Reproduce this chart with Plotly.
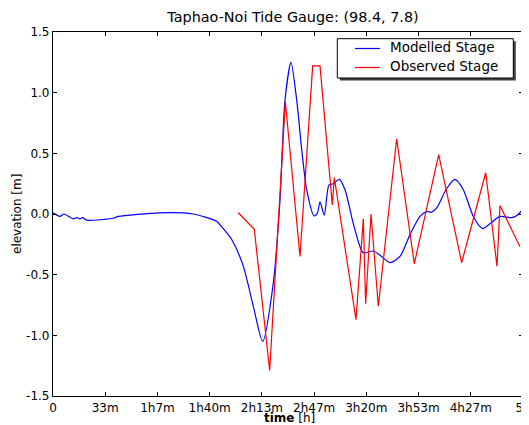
import plotly.graph_objects as go

# Modelled stage (time in seconds, elevation in m)
model_t = [0, 268, 421, 777, 908, 1034, 1137, 1291, 2309, 2501, 4098, 5373, 6269, 6396,
           6844, 7288, 7671, 8031, 8437, 8694, 8885, 9115, 9333, 9525, 9716, 9996, 10122,
           10226, 10390, 10570, 10735, 10965, 11183, 11501, 11758, 11884, 12267, 12523,
           12906, 13289, 13672, 14055, 14312, 14503, 14695, 15078, 15396, 15714, 16097,
           16457, 16736, 17119, 17567, 17782, 18000]
model_z = [0.01, -0.02, 0.0, -0.04, -0.03, -0.04, -0.03, -0.05, -0.035, -0.02, 0.01, 0.0,
           -0.06, -0.09, -0.21, -0.43, -0.76, -1.05, -0.57, 0.115, 0.94, 1.25, 0.94, 0.53,
           0.2, -0.016, 0.005, 0.10, -0.01, 0.24, 0.25, 0.285, 0.2, -0.08, -0.27, -0.32,
           -0.305, -0.34, -0.40, -0.35, -0.17, -0.02, 0.02, 0.015, 0.05, 0.21, 0.285, 0.2,
           -0.02, -0.12, -0.08, -0.02, -0.03, -0.01, 0.04]

# Observed stage
obs_t = [7097, 7710, 8298, 8898, 9460, 9945, 10226, 10697, 10774, 11604, 11885, 11974,
         12179, 12459, 13162, 13837, 14771, 15652, 16572, 17004, 17119, 17885]
obs_z = [0.01, -0.126, -1.29, 0.925, -0.35, 1.22, 1.22, 0.074, 0.30, -0.87, -0.04, -0.74,
         0.0, -0.76, 0.62, -0.41, 0.49, -0.40, 0.34, -0.43, 0.07, -0.27]

x_tickvals = [0, 2000, 4000, 6000, 8000, 10000, 12000, 14000, 16000, 18000]
x_ticktext = ["0", "33m", "1h7m", "1h40m", "2h13m", "2h47m", "3h20m", "3h53m", "4h27m", "5h"]
y_tickvals = [-1.5, -1.0, -0.5, 0.0, 0.5, 1.0, 1.5]
y_ticktext = ["-1.5", "-1.0", "-0.5", "0.0", "0.5", "1.0", "1.5"]

series_names = ["Modelled Stage", "Observed Stage"]
series_colors = ["#0000ff", "#ff0000"]

FONT = "DejaVu Sans"

fig = go.Figure()
fig.add_trace(go.Scatter(x=model_t, y=model_z, mode="lines", name=series_names[0],
                         showlegend=False,
                         line=dict(color=series_colors[0], width=1.2, shape="spline",
                                   smoothing=0.7)))
fig.add_trace(go.Scatter(x=obs_t, y=obs_z, mode="lines", name=series_names[1],
                         showlegend=False,
                         line=dict(color=series_colors[1], width=1.2)))

# page body has an 8px margin: figure is offset by (8, 8) inside the 529x425 window
OFF = 8
W, H = 529 - OFF, 425 - OFF
L, R, T, B = 53 - OFF, 6, 32 - OFF, 29
pw, ph = W - L - R, H - T - B


def px_x(p):  # reference window pixel -> paper x
    return (p - OFF - L) / pw


def px_y(p):  # reference window pixel -> paper y
    return (H - B - (p - OFF)) / ph


axis_common = dict(showline=True, linecolor="black", linewidth=1.2, mirror="allticks",
                   ticks="inside", ticklen=4, tickcolor="black", showgrid=False,
                   zeroline=False, automargin=False, ticklabeloverflow="allow",
                   tickfont=dict(family=FONT, size=12, color="black"))

fig.update_layout(
    template="none",
    width=W, height=H,
    margin=dict(l=L, r=R, t=T, b=B, autoexpand=False),
    paper_bgcolor="white", plot_bgcolor="white",
    font=dict(family=FONT, color="black"),
    title=dict(text="Taphao-Noi Tide Gauge: (98.4, 7.8)", x=(293 - OFF) / W, xanchor="center",
               y=1 - (17 - OFF) / H, yanchor="middle",
               font=dict(family=FONT, size=14.4, color="black")),
    xaxis=dict(range=[0, 18000], tickvals=x_tickvals, ticktext=x_ticktext, **axis_common),
    yaxis=dict(range=[-1.5, 1.5], tickvals=y_tickvals, ticktext=y_ticktext, **axis_common),
    showlegend=False,
)

# legend box (matplotlib style with drop shadow)
BX0, BY0, BX1, BY1 = 337.3, 38.7, 513.3, 78.0
fig.add_shape(type="rect", xref="paper", yref="paper",
              x0=px_x(BX0 + 2.5), x1=px_x(BX1 + 2.5), y0=px_y(BY1 + 2.5), y1=px_y(BY0 + 2.5),
              fillcolor="#404040", line=dict(width=0), layer="above")
fig.add_shape(type="rect", xref="paper", yref="paper",
              x0=px_x(BX0), x1=px_x(BX1), y0=px_y(BY1), y1=px_y(BY0),
              fillcolor="white", line=dict(color="black", width=1), layer="above")
for i, (name, col) in enumerate(zip(series_names, series_colors)):
    yy = 48.5 + 19 * i
    fig.add_shape(type="line", xref="paper", yref="paper",
                  x0=px_x(355), x1=px_x(380), y0=px_y(yy), y1=px_y(yy),
                  line=dict(color=col, width=1.2), layer="above")
    fig.add_annotation(text=name, xref="paper", yref="paper", x=px_x(388), y=px_y(yy - 1.5),
                       xanchor="left", yanchor="middle", showarrow=False,
                       font=dict(family=FONT, size=13.5, color="black"))

fig.add_annotation(text="<b>time</b> [h]", xref="paper", yref="paper", x=px_x(289),
                   y=px_y(418), xanchor="center", yanchor="middle", showarrow=False,
                   font=dict(family=FONT, size=12, color="black"))
fig.add_annotation(text="elevation [m]", xref="paper", yref="paper", x=px_x(17),
                   y=0.5, xanchor="center", yanchor="middle", showarrow=False, textangle=-90,
                   font=dict(family=FONT, size=12, color="black"))

fig.write_html("out.html")
